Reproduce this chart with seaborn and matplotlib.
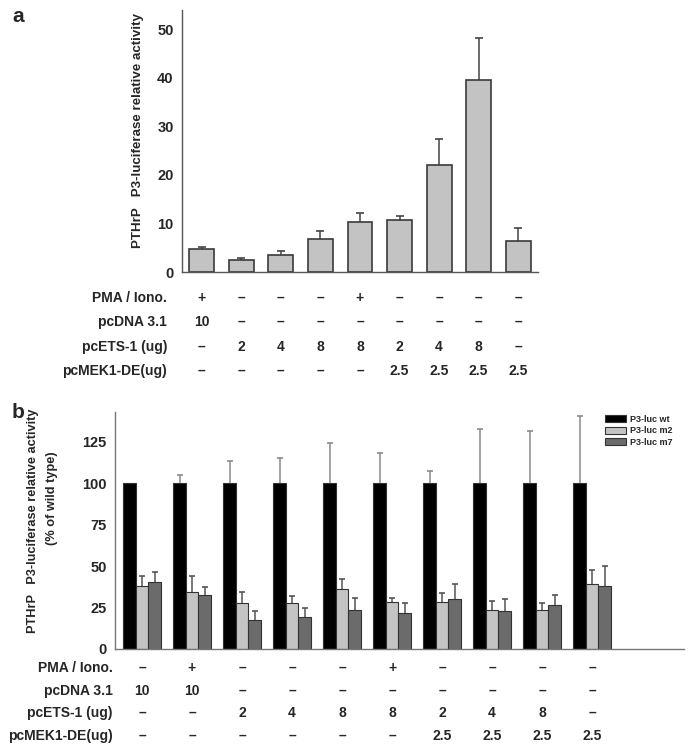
import matplotlib
matplotlib.use("Agg")
import matplotlib.pyplot as plt
import matplotlib.patches as mpatches
import matplotlib.transforms as mtransforms
import numpy as np
import pandas as pd
import seaborn as sns

# ---- panel a data ----
conds_a = ["a1", "a2", "a3", "a4", "a5", "a6", "a7", "a8", "a9"]
activity_a = [4.8, 2.5, 3.6, 6.8, 10.4, 10.7, 22.0, 39.6, 6.4]
err_a = [0.4, 0.4, 0.7, 1.6, 1.8, 0.8, 5.4, 8.6, 2.6]

row_names = ["PMA / Iono.", "pcDNA 3.1", "pcETS-1 (ug)", "pcMEK1-DE(ug)"]
pma_a = ["+", "–", "–", "–", "+", "–", "–", "–", "–"]
pcdna_a = ["10", "–", "–", "–", "–", "–", "–", "–", "–"]
ets_a = ["–", "2", "4", "8", "8", "2", "4", "8", "–"]
mek_a = ["–", "–", "–", "–", "–", "2.5", "2.5", "2.5", "2.5"]

# ---- panel b data ----
conds_b = ["b1", "b2", "b3", "b4", "b5", "b6", "b7", "b8", "b9", "b10"]
series_b = ["P3-luc wt", "P3-luc m2", "P3-luc m7"]
wt = [100, 100, 100, 100, 100, 100, 100, 100, 100, 100]
wt_err = [0, 5, 13.5, 15.5, 24, 18.4, 7.7, 32.8, 31.8, 40.8]
m2 = [38, 34.5, 27.5, 28, 36, 28.5, 28.5, 23.5, 23.5, 39.5]
m2_err = [6, 9.5, 7, 4, 6, 2.5, 5.5, 5.5, 4, 8]
m7 = [40.5, 32.5, 17.5, 19.5, 23.5, 22, 30, 23, 26.5, 38]
m7_err = [6, 5, 5.5, 5, 7, 5.5, 9.5, 7, 6, 12]

pma_b = ["–", "+", "–", "–", "–", "+", "–", "–", "–", "–"]
pcdna_b = ["10", "10", "–", "–", "–", "–", "–", "–", "–", "–"]
ets_b = ["–", "–", "2", "4", "8", "8", "2", "4", "8", "–"]
mek_b = ["–", "–", "–", "–", "–", "–", "2.5", "2.5", "2.5", "2.5"]

W, H = 697, 750
sns.set_style("white")
plt.rcParams['font.family'] = ['Liberation Sans', 'DejaVu Sans']
plt.rcParams['font.weight'] = 'bold'

fig = plt.figure(figsize=(W / 100, H / 100), dpi=100)


def fy(py):
    return 1 - py / H


def up_errors(ax, xs, ys, errs, color, capsize):
    xs = np.asarray(xs)
    ys = np.asarray(ys, dtype=float)
    errs = np.asarray(errs, dtype=float)
    keep = errs > 0
    _, caps, _ = ax.errorbar(xs[keep], ys[keep], yerr=[np.zeros(keep.sum()), errs[keep]],
                             fmt='none', ecolor=color, elinewidth=1.1,
                             capsize=capsize, capthick=1.2, zorder=1)
    caps[0].set_visible(False)


def style_axis(ax, color):
    sns.despine(ax=ax)
    for s in ("left", "bottom"):
        ax.spines[s].set_color(color)
        ax.spines[s].set_linewidth(1.0)
    ax.tick_params(axis="y", direction="out", length=3, width=1, color=color,
                   labelsize=10.5, pad=3)
    ax.tick_params(axis="x", bottom=False, labelbottom=False)
    ax.set_xlabel("")
    ax.set_ylabel("")
    for t in ax.get_yticklabels():
        t.set_fontweight("bold")


def draw_table(ax, cells, ys, label_right, fontsize):
    tr = mtransforms.blended_transform_factory(ax.transData, fig.transFigure)
    for name, row, py in zip(row_names, cells, ys):
        fig.text(label_right / W, fy(py), name, ha="right", va="center",
                 fontsize=fontsize, fontweight="bold")
        for i, val in enumerate(row):
            ax.text(i, fy(py), val, transform=tr, ha="center", va="center",
                    fontsize=fontsize, fontweight="bold")


# ---- panel a ----
ax_a = fig.add_axes([182 / W, fy(272), 356 / W, 262 / H])
sns.barplot(x=conds_a, y=activity_a, color="#c3c3c3", saturation=1, width=0.63,
            edgecolor="#3a3a3a", linewidth=1.2, errorbar=None, ax=ax_a, zorder=2)
xs_a = [p.get_x() + p.get_width() / 2 for p in ax_a.patches]
up_errors(ax_a, xs_a, activity_a, err_a, "#444444", 2.8)
ax_a.set_xlim(-0.5, 8.5)
ax_a.set_ylim(0, 54)
ax_a.set_yticks([0, 10, 20, 30, 40, 50])
style_axis(ax_a, "#555555")
draw_table(ax_a, [pma_a, pcdna_a, ets_a, mek_a], [298, 322, 347, 371], 167, 10)

fig.text(138 / W, fy(130), "PTHrP   P3-luciferase relative activity", rotation=90,
         ha="center", va="center", fontsize=9.6, fontweight="bold")
fig.text(12 / W, fy(16), "a", fontsize=15, fontweight="bold", va="center")

# ---- panel b ----
ax_b = fig.add_axes([115 / W, fy(649), 569 / W, 237 / H])
df_b = pd.DataFrame({
    "cond": conds_b * 3,
    "series": np.repeat(series_b, len(conds_b)),
    "value": wt + m2 + m7,
})
colors_b = ["#000000", "#c4c4c4", "#6b6b6b"]
sns.barplot(data=df_b, x="cond", y="value", hue="series", hue_order=series_b,
            palette=colors_b, saturation=1, width=0.75, edgecolor="#333333",
            linewidth=0.8, errorbar=None, legend=False, ax=ax_b, zorder=2)
err_colors = ["#8a8a8a", "#555555", "#555555"]
for cont, vals, errs, ec in zip(ax_b.containers, [wt, m2, m7], [wt_err, m2_err, m7_err], err_colors):
    xs = [p.get_x() + p.get_width() / 2 for p in cont.patches]
    up_errors(ax_b, xs, vals, errs, ec, 2.0)
ax_b.set_xlim(-0.54, 10.84)
ax_b.set_ylim(0, 143)
ax_b.set_yticks([0, 25, 50, 75, 100, 125])
style_axis(ax_b, "#777777")
draw_table(ax_b, [pma_b, pcdna_b, ets_b, mek_b], [668, 691, 713, 736], 113, 10)

handles = [mpatches.Patch(facecolor=c, edgecolor="#333333", linewidth=0.8, label=s)
           for c, s in zip(colors_b, series_b)]
ax_b.legend(handles=handles, loc="upper left", bbox_to_anchor=(605 / W, fy(415)),
            bbox_transform=fig.transFigure, frameon=False,
            handlelength=2.3, handleheight=0.8, labelspacing=0.25,
            handletextpad=0.5, borderpad=0, borderaxespad=0,
            prop={"weight": "bold", "size": 6.5})

fig.text(33 / W, fy(521), "PTHrP   P3-luciferase relative activity", rotation=90,
         ha="center", va="center", fontsize=9.2, fontweight="bold")
fig.text(52 / W, fy(498), "(% of wild type)", rotation=90,
         ha="center", va="center", fontsize=9.2, fontweight="bold")
fig.text(12 / W, fy(413), "b", fontsize=15, fontweight="bold", va="center")

fig.savefig("out.png", dpi=100)
